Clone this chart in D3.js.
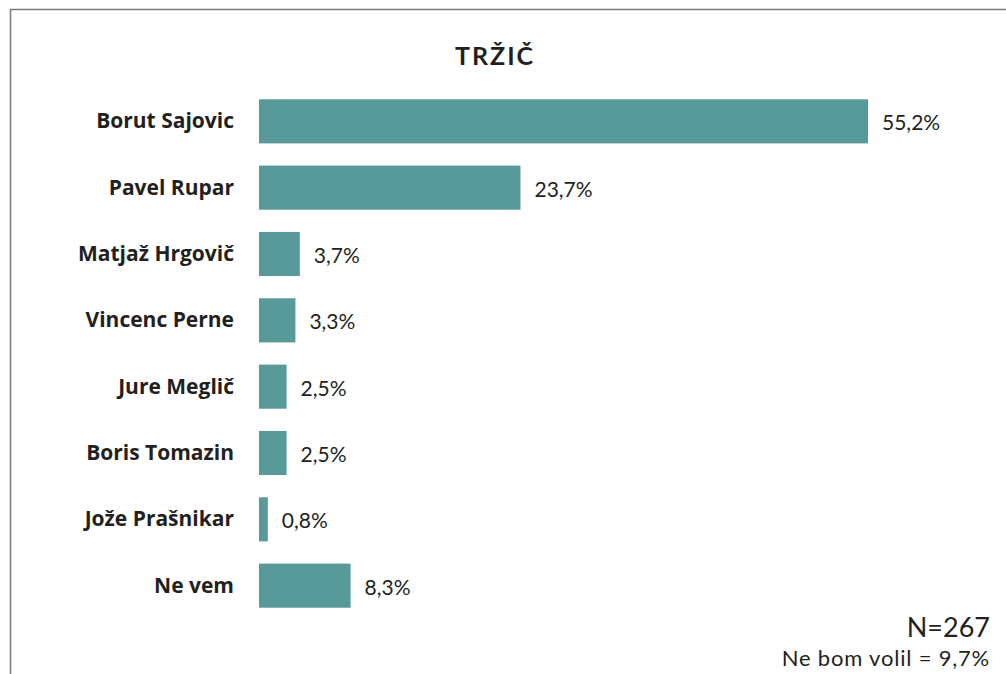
<!DOCTYPE html>
<html>
<head>
<meta charset="utf-8">
<script src="https://cdn.jsdelivr.net/npm/d3@7"></script>
<style>
  body { margin: 0; background: #fff; }
  svg { display: block; font-family: Lato, "Open Sans", sans-serif; }
</style>
</head>
<body>
<div id="chart"></div>
<script>
var title = 'TRŽIČ';
var candidates = ['Borut Sajovic', 'Pavel Rupar', 'Matjaž Hrgovič', 'Vincenc Perne', 'Jure Meglič', 'Boris Tomazin', 'Jože Prašnikar', 'Ne vem'];
var shares = [55.2, 23.7, 3.7, 3.3, 2.5, 2.5, 0.8, 8.3];
var sampleNote = 'N=267';
var abstainNote = 'Ne bom volil = 9,7%';

var width = 1006, height = 674;
var svg = d3.select('#chart').append('svg').attr('width', width).attr('height', height);

// frame (top and left edges only)
svg.append('line').attr('x1', 10).attr('x2', width).attr('y1', 9.5).attr('y2', 9.5).attr('stroke', '#7a7a7a').attr('stroke-width', 1.5);
svg.append('line').attr('x1', 10.5).attr('x2', 10.5).attr('y1', 9).attr('y2', height).attr('stroke', '#7a7a7a').attr('stroke-width', 1.5);

var x = d3.scaleLinear().domain([0, 55.2]).range([259, 868]);
var y = d3.scaleBand().domain(candidates).range([88, 619]).paddingInner(0.335).paddingOuter(0.17);

svg.append('text').attr('x', 495).attr('y', 65).attr('text-anchor', 'middle')
  .attr('font-size', 25).attr('font-weight', 700).attr('letter-spacing', 2).attr('fill', '#231f20').text(title);

var rows = svg.selectAll('.row').data(candidates).enter().append('g').attr('class', 'row');

rows.append('rect')
  .attr('x', x(0))
  .attr('y', function (d) { return y(d); })
  .attr('width', function (d, i) { return x(shares[i]) - x(0); })
  .attr('height', y.bandwidth())
  .attr('fill', '#579a99');

rows.append('text')
  .attr('x', 234)
  .attr('y', function (d) { return y(d) + y.bandwidth() / 2 + 7; })
  .attr('text-anchor', 'end').attr('font-size', 21).attr('font-weight', 700).attr('fill', '#231f20')
  .style('font-family', '"Open Sans", sans-serif')
  .text(function (d) { return d; });

rows.append('text')
  .attr('x', function (d, i) { return x(shares[i]) + 14; })
  .attr('y', function (d) { return y(d) + y.bandwidth() / 2 + 9; })
  .attr('font-size', 21).attr('fill', '#231f20')
  .text(function (d, i) { return d3.format('.1f')(shares[i]).replace('.', ',') + '%'; });

svg.append('text').attr('x', 990).attr('y', 637).attr('text-anchor', 'end')
  .attr('font-size', 27).attr('fill', '#231f20').text(sampleNote);
svg.append('text').attr('x', 990).attr('y', 666).attr('text-anchor', 'end')
  .attr('font-size', 22).attr('letter-spacing', 0.8).attr('fill', '#231f20').text(abstainNote);
</script>
</body>
</html>
